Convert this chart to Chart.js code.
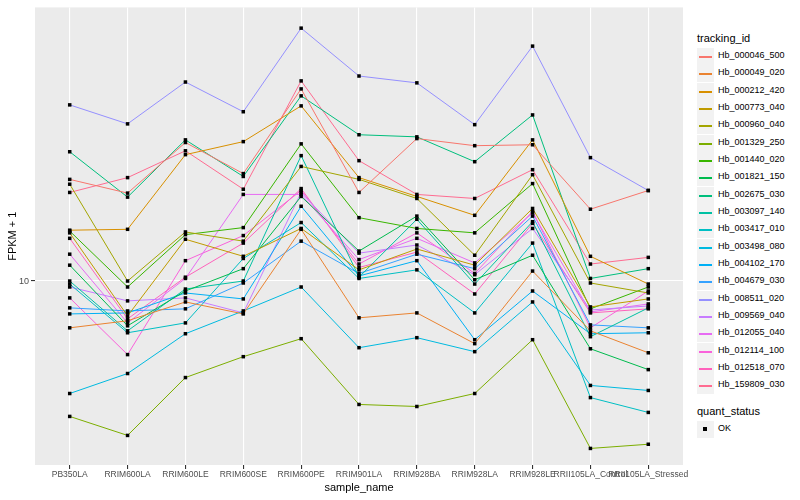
<!DOCTYPE html>
<html>
<head>
<meta charset="utf-8">
<script src="https://cdn.jsdelivr.net/npm/chart.js@4"></script>
<style>
  html, body { margin: 0; padding: 0; background: #fff; }
  body { width: 800px; height: 500px; position: relative; overflow: hidden; font-family: "Liberation Sans", Arial, sans-serif; }
  #wrap { position: absolute; left: 0; top: 0; width: 690px; height: 500px; }
  .lg-title { position: absolute; left: 697px; font-size: 11px; color: #000; }
  .lg-item { position: absolute; left: 697px; height: 17px; }
  .lg-key { position: absolute; left: 0; top: 0; width: 17px; height: 17px; background: #f2f2f2; }
  .lg-key i { position: absolute; left: 2px; right: 2px; top: 8px; height: 1.5px; }
  .lg-text { position: absolute; left: 21px; top: 2px; font-size: 9px; color: #000; white-space: nowrap; }
  .lg-dot { position: absolute; left: 6px; top: 6px; width: 4px; height: 4px; background: #000; }
</style>
</head>
<body>
<div id="wrap"><canvas id="chart"></canvas></div>
<div id="legend"></div>
<script>
// x categories
const sampleNames = ['PB350LA', 'RRIM600LA', 'RRIM600LE', 'RRIM600SE', 'RRIM600PE', 'RRIM901LA',
  'RRIM928BA', 'RRIM928LA', 'RRIM928LE', 'RRII105LA_Control', 'RRII105LA_Stressed'];

// FPKM + 1 per tracking id (log scale)
const hb000046_500 = [21.9, 19.7, 29.1, 22.9, 44.0, 19.8, 30.0, 28.4, 28.6, 17.4, 20.1];
const hb000049_020 = [6.97, 7.36, 8.51, 7.76, 14.9, 7.53, 7.82, 6.17, 10.8, 6.81, 5.75];
const hb000212_420 = [14.8, 14.9, 26.5, 29.3, 38.6, 22.2, 19.2, 16.6, 29.7, 12.1, 9.77];
const hb000773_040 = [14.5, 7.64, 13.8, 12.1, 15.0, 10.9, 12.8, 11.3, 17.5, 8.19, 8.71];
const hb000960_040 = [21.1, 10.0, 14.6, 13.6, 24.2, 21.9, 18.9, 12.2, 22.7, 9.85, 9.12];
const hb001329_250 = [3.52, 3.04, 4.75, 5.58, 6.41, 3.86, 3.80, 4.20, 6.36, 2.75, 2.84];
const hb001440_020 = [14.7, 9.55, 14.3, 15.1, 28.8, 16.3, 15.0, 14.5, 21.2, 8.07, 9.55];
const hb001821_150 = [11.3, 7.08, 9.26, 11.0, 19.2, 12.6, 16.5, 10.1, 12.2, 5.93, 5.05];
const hb002675_030 = [27.1, 19.1, 29.7, 22.4, 41.7, 30.9, 30.4, 25.1, 36.0, 10.2, 11.0];
const hb003097_140 = [10.0, 6.81, 9.40, 10.0, 26.3, 10.3, 16.1, 9.77, 15.8, 6.51, 8.13];
const hb003417_010 = [9.77, 6.71, 7.24, 11.9, 15.7, 10.2, 10.9, 7.82, 13.4, 4.07, 3.63];
const hb003498_080 = [4.20, 4.90, 6.66, 7.94, 9.55, 5.98, 6.46, 5.80, 8.51, 4.47, 4.30];
const hb004102_170 = [7.76, 7.82, 9.12, 8.71, 17.8, 10.4, 11.7, 6.36, 9.26, 6.66, 6.71];
const hb004679_030 = [8.13, 7.94, 8.07, 9.85, 13.6, 10.6, 12.3, 11.0, 16.5, 7.13, 6.97];
const hb008511_020 = [38.9, 33.6, 46.4, 36.9, 70.3, 48.6, 46.1, 33.4, 61.2, 25.9, 20.1];
const hb009569_040 = [9.55, 8.58, 8.78, 7.82, 19.8, 12.4, 13.2, 10.5, 15.0, 8.00, 8.25];
const hb012055_040 = [12.3, 7.24, 10.2, 19.5, 19.5, 11.8, 13.9, 11.5, 16.9, 7.88, 8.38];
const hb012114_100 = [8.78, 5.67, 11.7, 14.2, 20.1, 11.4, 14.5, 10.6, 17.1, 6.97, 9.26];
const hb012518_070 = [13.9, 7.47, 10.3, 13.4, 20.4, 11.1, 12.5, 9.05, 15.6, 7.82, 8.07];
const hb159809_030 = [19.8, 22.2, 27.3, 20.3, 46.8, 25.3, 19.5, 18.9, 23.6, 11.4, 12.0];

const trackingIds = ['Hb_000046_500', 'Hb_000049_020', 'Hb_000212_420', 'Hb_000773_040', 'Hb_000960_040',
  'Hb_001329_250', 'Hb_001440_020', 'Hb_001821_150', 'Hb_002675_030', 'Hb_003097_140', 'Hb_003417_010',
  'Hb_003498_080', 'Hb_004102_170', 'Hb_004679_030', 'Hb_008511_020', 'Hb_009569_040', 'Hb_012055_040',
  'Hb_012114_100', 'Hb_012518_070', 'Hb_159809_030'];
const seriesValues = [hb000046_500, hb000049_020, hb000212_420, hb000773_040, hb000960_040,
  hb001329_250, hb001440_020, hb001821_150, hb002675_030, hb003097_140, hb003417_010,
  hb003498_080, hb004102_170, hb004679_030, hb008511_020, hb009569_040, hb012055_040,
  hb012114_100, hb012518_070, hb159809_030];
const yTicks = [10];

// ggplot default hue palette, 20 levels
const palette = ['#F8766D', '#EA8331', '#D89000', '#C09B00', '#A3A500', '#7CAE00', '#39B600', '#00BB4E',
  '#00BF7D', '#00C1A3', '#00BFC4', '#00BAE0', '#00B0F6', '#35A2FF', '#9590FF', '#C77CFF', '#E76BF3',
  '#FA62DB', '#FF62BC', '#FF6C91'];

const datasets = trackingIds.map((id, k) => ({
  label: id,
  data: seriesValues[k].map((v, i) => ({ x: i, y: v })),
  borderColor: palette[k],
  backgroundColor: palette[k],
  borderWidth: 1,
  pointRadius: 0,
  tension: 0,
  fill: false
}));

const panelBg = {
  id: 'panelBg',
  beforeDraw(chart) {
    const a = chart.chartArea, ctx = chart.ctx;
    ctx.save();
    ctx.fillStyle = '#EBEBEB';
    ctx.fillRect(a.left, a.top, a.right - a.left, a.bottom - a.top);
    ctx.restore();
  }
};

// points drawn on top of all lines (geom_point after geom_line)
const squarePoints = {
  id: 'squarePoints',
  afterDatasetsDraw(chart) {
    const ctx = chart.ctx;
    ctx.save();
    ctx.fillStyle = '#000';
    chart.data.datasets.forEach((ds, k) => {
      chart.getDatasetMeta(k).data.forEach(pt => {
        ctx.fillRect(pt.x - 1.75, pt.y - 1.75, 3.5, 3.5);
      });
    });
    ctx.restore();
  }
};

const font = { family: '"Liberation Sans", Arial, sans-serif' };

new Chart(document.getElementById('chart'), {
  type: 'line',
  data: { datasets },
  plugins: [panelBg, squarePoints],
  options: {
    responsive: true,
    maintainAspectRatio: false,
    animation: false,
    layout: { padding: { top: 5, right: 7, left: 0, bottom: 0 } },
    plugins: { legend: { display: false }, tooltip: { enabled: false } },
    scales: {
      x: {
        type: 'linear',
        min: -0.6,
        max: 10.6,
        afterBuildTicks: s => { s.ticks = sampleNames.map((n, i) => ({ value: i })); },
        afterFit: s => { s.height = 35; },
        grid: { color: '#FFFFFF', lineWidth: 1.1, drawTicks: true, tickLength: 4, tickColor: '#333333' },
        border: { display: false },
        ticks: {
          autoSkip: false, maxRotation: 0, minRotation: 0, padding: 1,
          color: '#4D4D4D', font: { ...font, size: 8.5 },
          callback: v => sampleNames[v]
        },
        title: { display: true, text: 'sample_name', color: '#000', font: { ...font, size: 11 }, padding: { top: 0, bottom: 5 } }
      },
      y: {
        type: 'logarithmic',
        min: 2.42,
        max: 82.5,
        afterBuildTicks: s => { s.ticks = yTicks.map(v => ({ value: v })); },
        afterFit: s => { s.width = 35; },
        grid: { color: '#FFFFFF', lineWidth: 1.1, drawTicks: true, tickLength: 4, tickColor: '#333333' },
        border: { display: false },
        ticks: { color: '#4D4D4D', font: { ...font, size: 9 }, padding: 2, callback: v => String(v) },
        title: { display: true, text: 'FPKM + 1', color: '#000', font: { ...font, size: 11 }, padding: { top: 6, bottom: 0 } }
      }
    }
  }
});

// ggplot style legend at the right
const lg = document.getElementById('legend');
function addTitle(text, top) {
  const d = document.createElement('div');
  d.className = 'lg-title'; d.style.top = top + 'px'; d.textContent = text;
  lg.appendChild(d);
}
addTitle('tracking_id', 32);
trackingIds.forEach((id, k) => {
  const it = document.createElement('div');
  it.className = 'lg-item';
  it.style.top = Math.round(48 + k * 17.33) + 'px';
  it.innerHTML = '<div class="lg-key"><i style="background:' + palette[k] + '"></i></div><div class="lg-text">' + id + '</div>';
  lg.appendChild(it);
});
addTitle('quant_status', 405);
const ok = document.createElement('div');
ok.className = 'lg-item';
ok.style.top = '421px';
ok.innerHTML = '<div class="lg-key"><div class="lg-dot"></div></div><div class="lg-text">OK</div>';
lg.appendChild(ok);
</script>
</body>
</html>
